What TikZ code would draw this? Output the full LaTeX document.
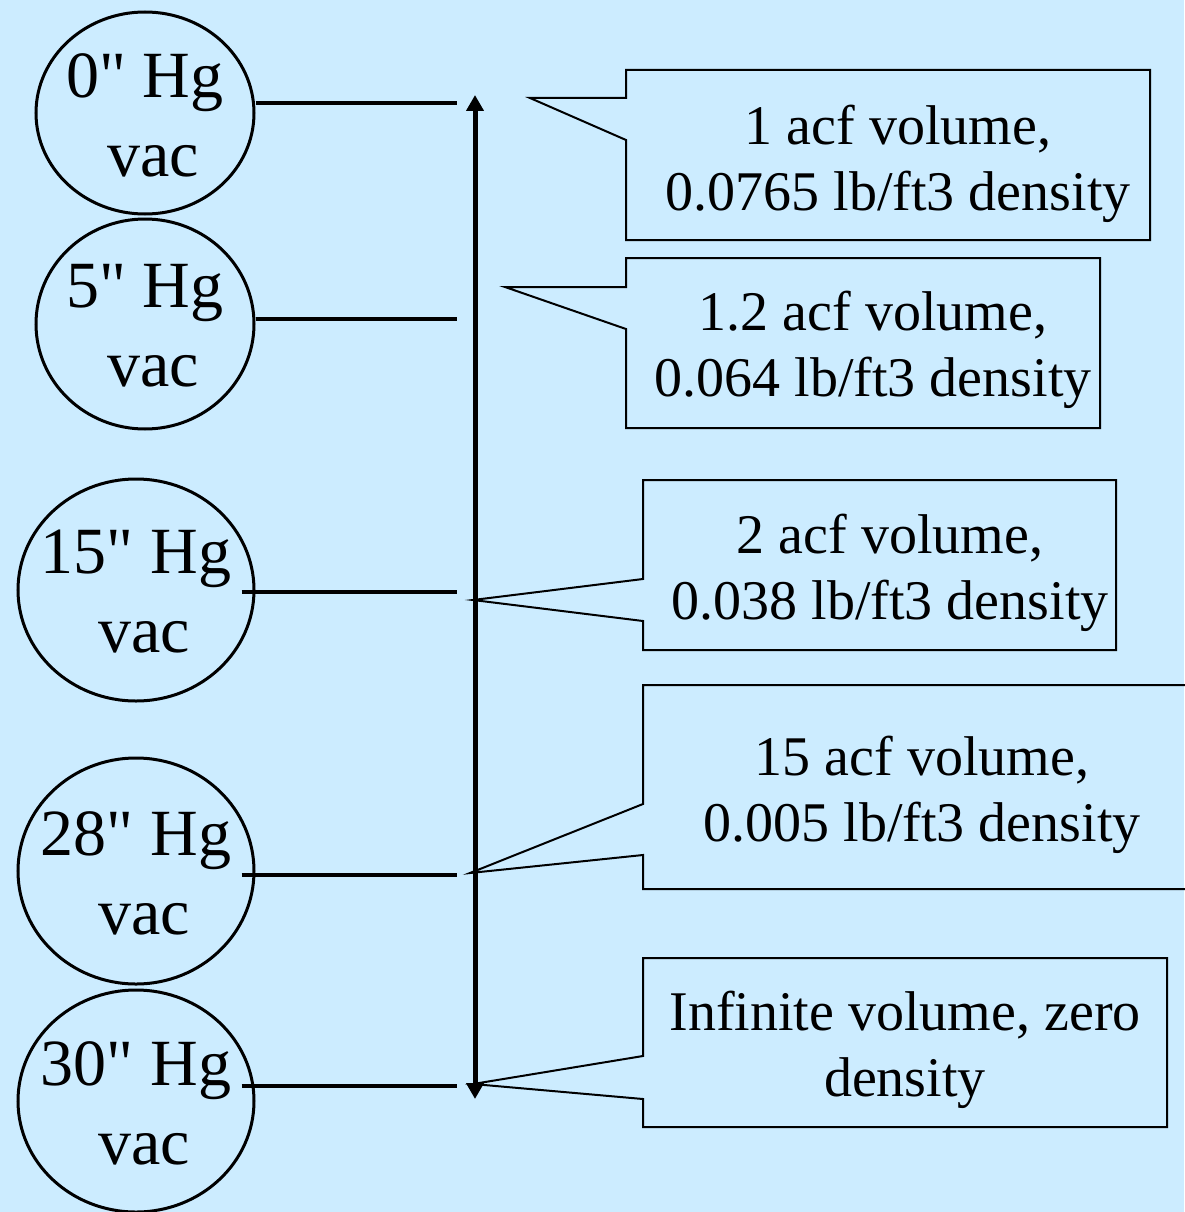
\documentclass[tikz,border=0pt]{standalone}
\usepackage{fontspec}
\setmainfont{Liberation Serif}[Ligatures=TeXOff]
\usetikzlibrary{arrows.meta,shapes.geometric}
\definecolor{bg}{RGB}{204,236,255}
\begin{document}
\begin{tikzpicture}[x=1pt,y=-1pt,
  vacring/.style={ellipse,draw,line width=3pt,inner sep=0pt},
  vactext/.style={align=center,inner sep=0pt,yshift=-2pt,font=\fontsize{66}{79}\selectfont},
  callout/.style={draw,line width=2pt,line join=miter},
  lbl/.style={align=center,inner sep=0pt,font=\fontsize{56}{66}\selectfont},
  tie/.style={line width=3.2pt},
  scalearrow/.style={line width=5pt,
    {Triangle[width=17pt,length=16pt]}-{Triangle[width=17pt,length=16pt]}}]
\fill[bg] (0,0) rectangle (1184,1212);
\useasboundingbox (0,0) rectangle (1184,1212);

% pressure circles
\node[vacring,minimum width=218pt,minimum height=202pt,
  label={[vactext]center:0" Hg\\\hspace*{16pt}vac}] (c1) at (145,113) {};
\node[vacring,minimum width=218pt,minimum height=210pt,
  label={[vactext]center:5" Hg\\\hspace*{16pt}vac}] (c2) at (145,324) {};
\node[vacring,minimum width=236pt,minimum height=222pt,
  label={[vactext]center:15" Hg\\\hspace*{16pt}vac}] (c3) at (136,590) {};
\node[vacring,minimum width=236pt,minimum height=226pt,
  label={[vactext]center:28" Hg\\\hspace*{16pt}vac}] (c4) at (136,871) {};
\node[vacring,minimum width=236pt,minimum height=222pt,
  label={[vactext]center:30" Hg\\\hspace*{16pt}vac}] (c5) at (136,1101) {};

% tie lines
\coordinate (h1) at (457,103);
\coordinate (h2) at (457,319);
\coordinate (h3) at (457,592);
\coordinate (h4) at (457,875);
\coordinate (h5) at (457,1086);
\draw[tie] (c1.east |- h1) -- (h1);
\draw[tie] (c2.east |- h2) -- (h2);
\draw[tie] ([xshift=-14pt]c3.east |- h3) -- (h3);
\draw[tie] ([xshift=-14pt]c4.east |- h4) -- (h4);
\draw[tie] ([xshift=-14pt]c5.east |- h5) -- (h5);

% vertical scale arrow
\coordinate (top) at (475,95);
\coordinate (bot) at (475,1099);
\draw[scalearrow] (bot) -- (top);

% callouts
\node[lbl] (b1) at (898,164) {1 acf volume,\\0.0765 lb/ft3 density};
\draw[callout] (626,70) -- (1150,70) -- (1150,240) -- (626,240) -- (626,140) -- (530,98) -- (626,98) -- cycle;

\node[lbl] (b2) at (873,350) {1.2 acf volume,\\0.064 lb/ft3 density};
\draw[callout] (626,258) -- (1100,258) -- (1100,428) -- (626,428) -- (626,329) -- (505,287) -- (626,287) -- cycle;

\node[lbl] (b3) at (890,573) {2 acf volume,\\0.038 lb/ft3 density};
\draw[callout] (643,480) -- (1116,480) -- (1116,650) -- (643,650) -- (643,621) -- (473,600) -- (643,579) -- cycle;

\node[lbl] (b4) at (922,795) {15 acf volume,\\0.005 lb/ft3 density};
\draw[callout] (643,685) -- (1192,685) -- (1192,889) -- (643,889) -- (643,855) -- (470,873) -- (643,804) -- cycle;

\node[lbl] (b5) at (905,1050) {Infinite volume, zero\\density};
\draw[callout] (643,958) -- (1167,958) -- (1167,1127) -- (643,1127) -- (643,1099) -- (473,1084) -- (643,1056) -- cycle;
\end{tikzpicture}
\end{document}
